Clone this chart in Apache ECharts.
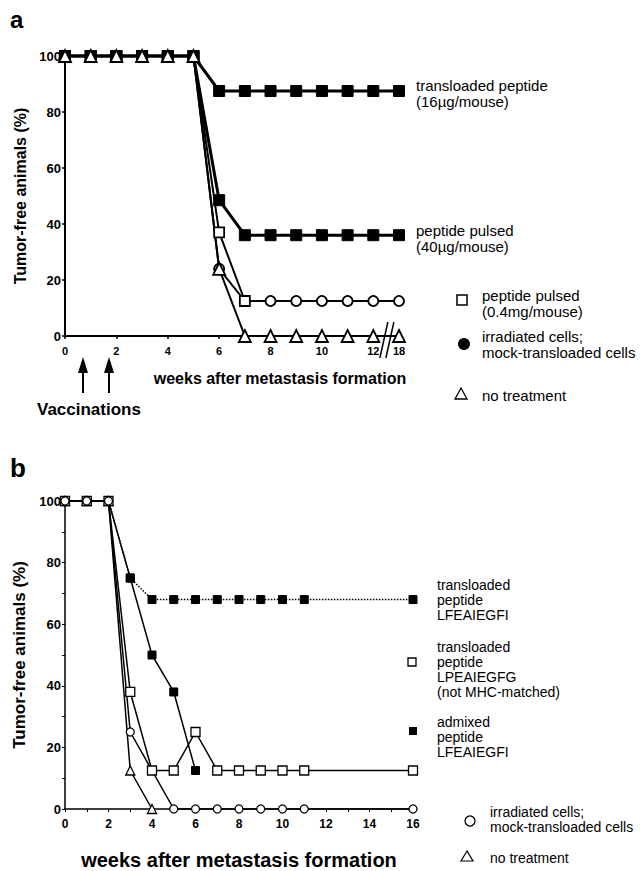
<!DOCTYPE html>
<html>
<head>
<meta charset="utf-8">
<script src="https://cdn.jsdelivr.net/npm/echarts@6.0.0/dist/echarts.min.js"></script>
<style>
html,body{margin:0;padding:0;background:#fff;}
#main{width:640px;height:871px;}
</style>
</head>
<body>
<div id="main"></div>
<script>
// ---------- Panel a data ----------
const weeksA = [0, 1, 2, 3, 4, 5, 6, 7, 8, 9, 10, 11, 12, 18];
const transloaded16 = [100, 100, 100, 100, 100, 100, 87.5, 87.5, 87.5, 87.5, 87.5, 87.5, 87.5, 87.5];
const pulsed40 = [100, 100, 100, 100, 100, 100, 48.5, 36, 36, 36, 36, 36, 36, 36];
const weeksPulsed04 = [0, 1, 2, 3, 4, 5, 6, 7];
const pulsed04 = [100, 100, 100, 100, 100, 100, 37, 12.5];
const irradiatedA = [100, 100, 100, 100, 100, 100, 24, 12.5, 12.5, 12.5, 12.5, 12.5, 12.5, 12.5];
const noTreatA = [100, 100, 100, 100, 100, 100, 24, 0, 0, 0, 0, 0, 0, 0];
const xTicksA = [0, 2, 4, 6, 8, 10, 12, 18];
const yTicks = [0, 20, 40, 60, 80, 100];
const vaccinationWeeks = [0.7, 1.7];

// ---------- Panel b data ----------
const weeksB = [0, 1, 2, 3, 4, 5, 6, 7, 8, 9, 10, 11, 16];
const transLFE = [100, 100, 100, 75, 68, 68, 68, 68, 68, 68, 68, 68, 68];
const transLPE = [100, 100, 100, 38, 12.5, 12.5, 25, 12.5, 12.5, 12.5, 12.5, 12.5, 12.5];
const weeksAdmixed = [0, 1, 2, 3, 4, 5, 6];
const admixed = [100, 100, 100, 75, 50, 38, 12.5];
const weeksIrrB = [0, 1, 2, 3, 5, 6, 7, 8, 9, 10, 11, 16];
const irradiatedB = [100, 100, 100, 25, 0, 0, 0, 0, 0, 0, 0, 0];
const weeksNoTreatB = [0, 1, 2, 3, 4];
const noTreatB = [100, 100, 100, 12.5, 0];

// broken axis in panel a: week 18 is drawn one slot after week 12
const posA = w => (w > 12 ? 13 : w);
const pairsA = (ws, vs) => ws.map((w, i) => [posA(w), vs[i]]);
const pairs = (ws, vs) => ws.map((w, i) => [w, vs[i]]);

const FONT = 'Liberation Sans, Arial, Helvetica, sans-serif';
const chart = echarts.init(document.getElementById('main'), null, {renderer: 'svg'});

const filled = {color: '#000', borderColor: '#000', borderWidth: 1};
const open = w => ({color: '#fff', borderColor: '#000', borderWidth: w});

function lineSeries(opt) {
  return Object.assign({
    type: 'line', animation: false, clip: false, silent: true,
    lineStyle: {color: '#000', width: 2}
  }, opt);
}

const tickPosA = xTicksA.map(posA);

const option = {
  backgroundColor: '#fff',
  animation: false,
  textStyle: {fontFamily: FONT},
  grid: [
    {left: 65, top: 56, width: 334, height: 280},
    {left: 65, top: 501, width: 348, height: 321}
  ],
  xAxis: [
    {
      type: 'value', gridIndex: 0, min: 0, max: 13,
      axisLine: {lineStyle: {color: '#000', width: 2}},
      splitLine: {show: false},
      axisTick: {customValues: tickPosA, length: 3, lineStyle: {color: '#000', width: 1.5}},
      axisLabel: {
        customValues: tickPosA,
        formatter: v => String(xTicksA[tickPosA.indexOf(v)]),
        color: '#000', fontWeight: 'bold', fontSize: 11, fontFamily: FONT, margin: 9
      }
    },
    {
      type: 'value', gridIndex: 1, min: 0, max: 16, interval: 2,
      axisLine: {lineStyle: {color: '#000', width: 1.5}},
      splitLine: {show: false},
      axisTick: {length: 3, lineStyle: {color: '#000', width: 1}},
      minorTick: {show: true, splitNumber: 2, length: 3, lineStyle: {color: '#000', width: 1}},
      axisLabel: {color: '#000', fontWeight: 'bold', fontSize: 12, fontFamily: FONT, margin: 9},
      name: 'weeks after metastasis formation',
      nameLocation: 'middle', nameGap: 41,
      nameTextStyle: {color: '#000', fontWeight: 'bold', fontSize: 20, fontFamily: FONT}
    }
  ],
  yAxis: [
    {
      type: 'value', gridIndex: 0, min: 0, max: 100, interval: 20,
      axisLine: {show: true, lineStyle: {color: '#000', width: 2}},
      splitLine: {show: false},
      axisTick: {show: true, length: 3, lineStyle: {color: '#000', width: 1.5}},
      axisLabel: {color: '#000', fontWeight: 'bold', fontSize: 13, fontFamily: FONT, margin: 4},
      name: 'Tumor-free animals (%)',
      nameLocation: 'middle', nameGap: 32, nameRotate: 90,
      nameTextStyle: {color: '#000', fontWeight: 'bold', fontSize: 16, fontFamily: FONT}
    },
    {
      type: 'value', gridIndex: 1, min: 0, max: 100, interval: 20,
      axisLine: {show: true, lineStyle: {color: '#000', width: 1.5}},
      splitLine: {show: false},
      axisTick: {show: true, length: 3, lineStyle: {color: '#000', width: 1}},
      minorTick: {show: true, splitNumber: 2, length: 3, lineStyle: {color: '#000', width: 1}},
      axisLabel: {color: '#000', fontWeight: 'bold', fontSize: 13, fontFamily: FONT, margin: 4},
      name: 'Tumor-free animals (%)',
      nameLocation: 'middle', nameGap: 32, nameRotate: 90,
      nameTextStyle: {color: '#000', fontWeight: 'bold', fontSize: 17, fontFamily: FONT}
    }
  ],
  series: [
    // ---- panel a ----
    lineSeries({name: 'irradiated cells; mock-transloaded cells', xAxisIndex: 0, yAxisIndex: 0,
      data: pairsA(weeksA, irradiatedA), symbol: 'circle', symbolSize: 10,
      itemStyle: open(1.8), lineStyle: {color: '#000', width: 2}}),
    lineSeries({name: 'peptide pulsed (0.4mg/mouse)', xAxisIndex: 0, yAxisIndex: 0,
      data: pairsA(weeksPulsed04, pulsed04), symbol: 'rect', symbolSize: 10,
      itemStyle: open(1.8), lineStyle: {color: '#000', width: 2}}),
    lineSeries({name: 'peptide pulsed (40µg/mouse)', xAxisIndex: 0, yAxisIndex: 0,
      data: pairsA(weeksA, pulsed40), symbol: 'rect', symbolSize: 11,
      itemStyle: filled, lineStyle: {color: '#000', width: 3}}),
    lineSeries({name: 'transloaded peptide (16µg/mouse)', xAxisIndex: 0, yAxisIndex: 0,
      data: pairsA(weeksA, transloaded16), symbol: 'rect', symbolSize: 11,
      itemStyle: filled, lineStyle: {color: '#000', width: 3}}),
    lineSeries({name: 'no treatment', xAxisIndex: 0, yAxisIndex: 0,
      data: pairsA(weeksA, noTreatA), symbol: 'triangle', symbolSize: 12,
      itemStyle: open(1.8), lineStyle: {color: '#000', width: 2}}),
    // ---- panel b ----
    lineSeries({name: 'no treatment b', xAxisIndex: 1, yAxisIndex: 1,
      data: pairs(weeksNoTreatB, noTreatB), symbol: 'triangle', symbolSize: 9,
      itemStyle: open(1.3), lineStyle: {color: '#000', width: 1.5}}),
    lineSeries({name: 'transloaded peptide LFEAIEGFI', xAxisIndex: 1, yAxisIndex: 1,
      data: pairs(weeksB, transLFE), symbol: 'rect', symbolSize: 8,
      itemStyle: filled, lineStyle: {color: '#000', width: 1.5, type: 'dotted'}}),
    lineSeries({name: 'admixed peptide LFEAIEGFI', xAxisIndex: 1, yAxisIndex: 1,
      data: pairs(weeksAdmixed, admixed), symbol: 'rect', symbolSize: 8,
      itemStyle: filled, lineStyle: {color: '#000', width: 1.5}}),
    lineSeries({name: 'transloaded peptide LPEAIEGFG', xAxisIndex: 1, yAxisIndex: 1,
      data: pairs(weeksB, transLPE), symbol: 'rect', symbolSize: 9,
      itemStyle: open(1.3), lineStyle: {color: '#000', width: 1.5}}),
    lineSeries({name: 'irradiated cells b', xAxisIndex: 1, yAxisIndex: 1,
      data: pairs(weeksIrrB, irradiatedB), symbol: 'circle', symbolSize: 8,
      itemStyle: open(1.3), lineStyle: {color: '#000', width: 1.5}})
  ]
};
chart.setOption(option);

// ---------- annotations ----------
const px = (g, x, y) => chart.convertToPixel({gridIndex: g}, [x, y]);
const txt = (x, y, text, size, weight, lh, align) => ({
  type: 'text', x: x, y: y, silent: true,
  style: {text: text, fill: '#000', font: (weight || 'normal') + ' ' + size + 'px ' + FONT,
          lineHeight: lh || Math.ceil(size), verticalAlign: 'top', align: align || 'left'}
});
const graphics = [];
graphics.push(txt(10, 7, 'a', 24, 'bold'));
graphics.push(txt(10, 455, 'b', 26, 'bold'));

// panel a x axis title and vaccination arrows
graphics.push(txt(280, 369, 'weeks after metastasis formation', 16, 'bold', 18, 'center'));
graphics.push(txt(37, 401, 'Vaccinations', 17, 'bold'));
vaccinationWeeks.forEach(w => {
  const p = px(0, w, 0);
  const x = Math.round(p[0]);
  graphics.push({type: 'line', silent: true, shape: {x1: x, y1: 393, x2: x, y2: 368},
    style: {stroke: '#000', lineWidth: 2}});
  graphics.push({type: 'polygon', silent: true, shape: {points: [[x, 357], [x - 5, 373], [x + 5, 373]]},
    style: {fill: '#000'}});
});
// axis break marks between 12 and 18
const br = px(0, 12.45, 0);
[0, 6].forEach(d => {
  graphics.push({type: 'line', silent: true,
    shape: {x1: br[0] - 5 + d, y1: br[1] + 22, x2: br[0] + 3 + d, y2: br[1] - 14},
    style: {stroke: '#000', lineWidth: 1.5}});
});

// panel a labels / legend
graphics.push(txt(416, 77, 'transloaded peptide\n(16µg/mouse)', 15, 'normal', 16));
graphics.push(txt(416, 222, 'peptide pulsed\n(40µg/mouse)', 15, 'normal', 16));
graphics.push({type: 'rect', silent: true, shape: {x: 457, y: 295, width: 10, height: 10},
  style: {fill: '#fff', stroke: '#000', lineWidth: 1.5}});
graphics.push(txt(482, 287, 'peptide pulsed\n(0.4mg/mouse)', 15, 'normal', 16));
graphics.push({type: 'circle', silent: true, shape: {cx: 464, cy: 344, r: 6}, style: {fill: '#000'}});
graphics.push(txt(482, 328, 'irradiated cells;\nmock-transloaded cells', 15, 'normal', 16));
graphics.push({type: 'polygon', silent: true, shape: {points: [[461, 388], [455, 399], [467, 399]]},
  style: {fill: '#fff', stroke: '#000', lineWidth: 1.3}});
graphics.push(txt(482, 387, 'no treatment', 15, 'normal', 16));

// panel b legend
graphics.push(txt(437, 577, 'transloaded\npeptide\nLFEAIEGFI', 14, 'normal', 15));
graphics.push({type: 'rect', silent: true, shape: {x: 408, y: 658, width: 8, height: 8},
  style: {fill: '#fff', stroke: '#000', lineWidth: 1.3}});
graphics.push(txt(437, 639, 'transloaded\npeptide\nLPEAIEGFG\n(not MHC-matched)', 14, 'normal', 15));
graphics.push({type: 'rect', silent: true, shape: {x: 409, y: 727, width: 8, height: 8},
  style: {fill: '#000'}});
graphics.push(txt(437, 714, 'admixed\npeptide\nLFEAIEGFI', 14, 'normal', 15));
graphics.push({type: 'circle', silent: true, shape: {cx: 470, cy: 821, r: 5},
  style: {fill: '#fff', stroke: '#000', lineWidth: 1.3}});
graphics.push(txt(490, 804, 'irradiated cells;\nmock-transloaded cells', 14, 'normal', 15));
graphics.push({type: 'polygon', silent: true, shape: {points: [[467, 851], [461, 861], [473, 861]]},
  style: {fill: '#fff', stroke: '#000', lineWidth: 1.2}});
graphics.push(txt(490, 850, 'no treatment', 14, 'normal', 15));

chart.setOption({graphic: graphics});
</script>
</body>
</html>
